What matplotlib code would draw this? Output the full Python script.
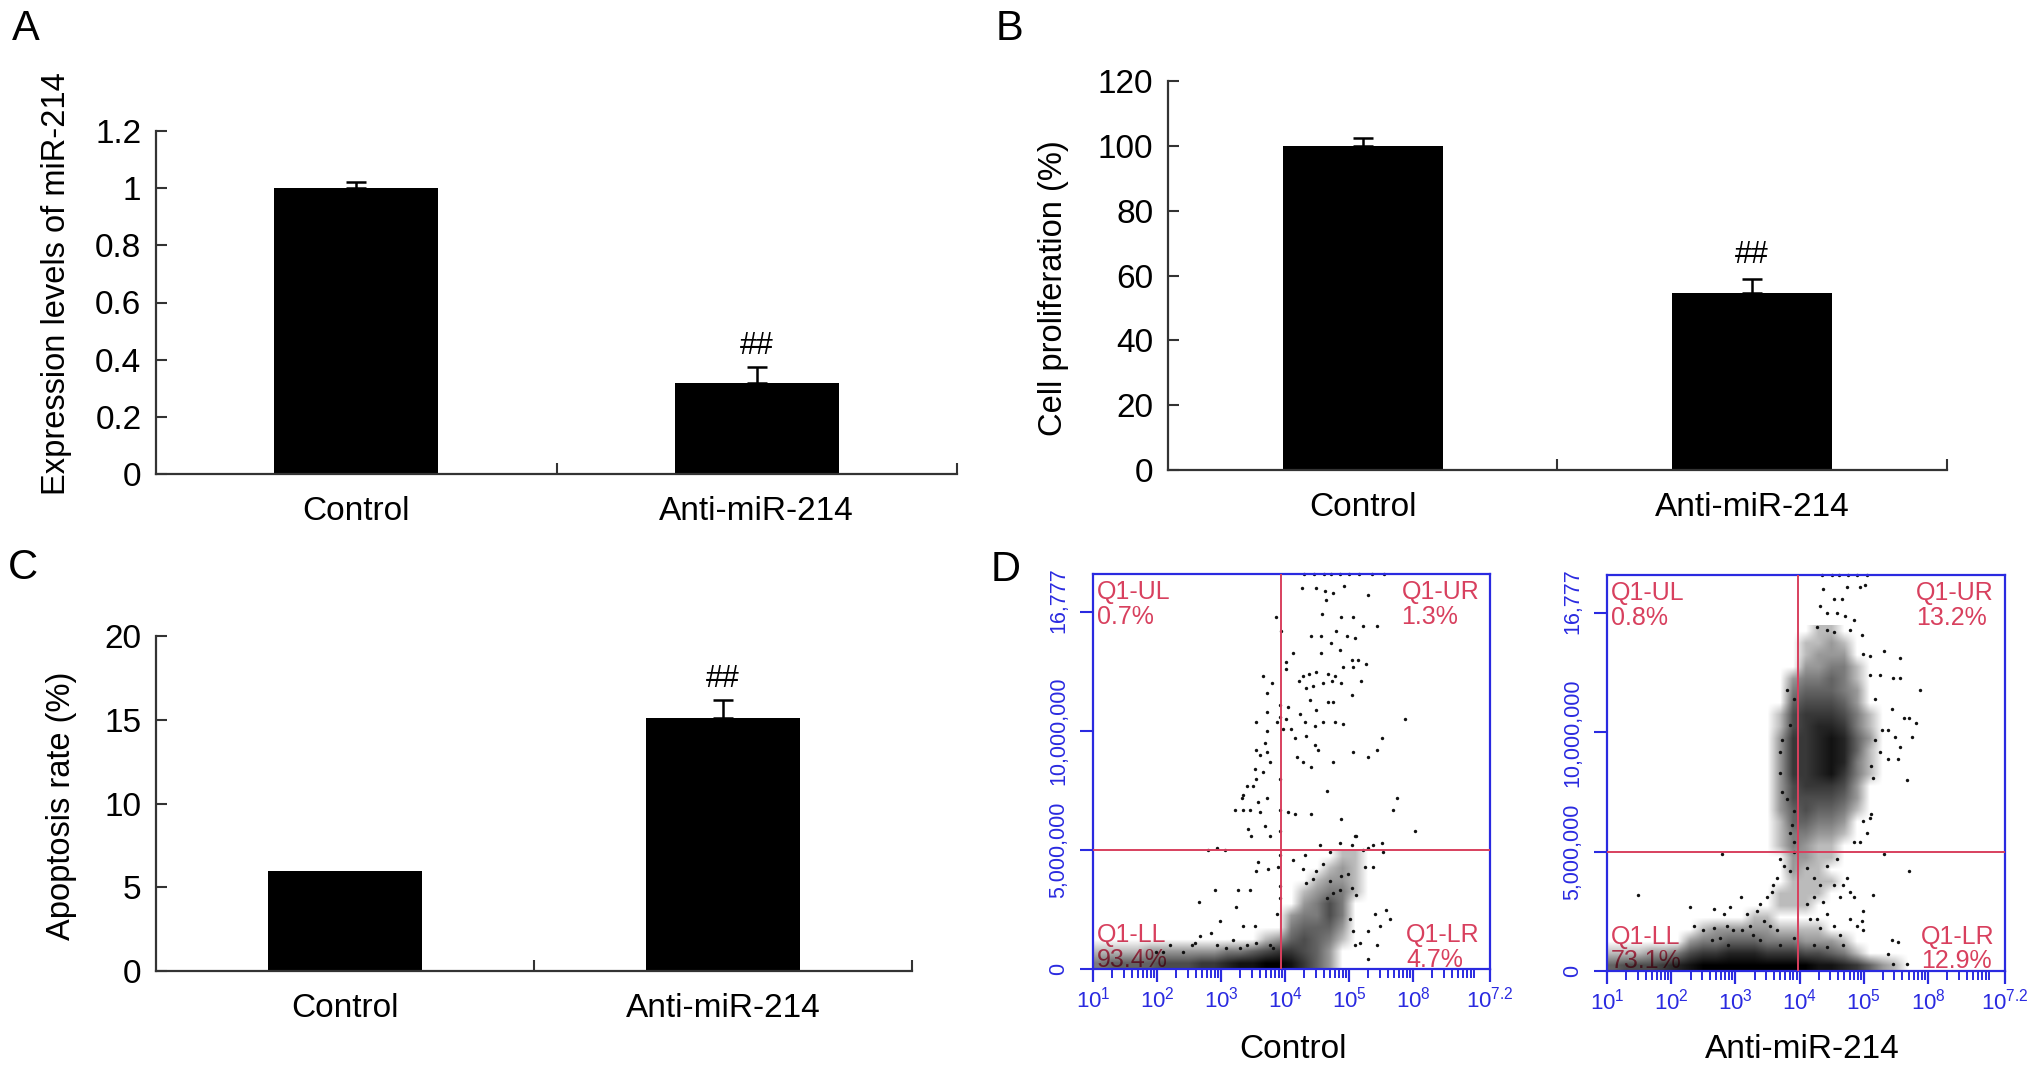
import numpy as np
import matplotlib
matplotlib.use('Agg')
import matplotlib.pyplot as plt
from matplotlib.transforms import ScaledTranslation

plt.rcParams['font.family'] = ['Liberation Sans', 'DejaVu Sans']
plt.rcParams['mathtext.default'] = 'regular'

# ---- bar panels (A, B, C) ----
groups = ['Control', 'Anti-miR-214']
sig = ['', '##']

expr_mean = [1.0, 0.32]
expr_err = [0.02, 0.055]
expr_ticks = [0, 0.2, 0.4, 0.6, 0.8, 1.0, 1.2]
expr_labels = ['0', '0.2', '0.4', '0.6', '0.8', '1', '1.2']

prolif_mean = [100.0, 54.5]
prolif_err = [2.3, 4.5]
prolif_ticks = [0, 20, 40, 60, 80, 100, 120]

apop_mean = [6.0, 15.1]
apop_err = [0.0, 1.1]
apop_ticks = [0, 5, 10, 15, 20]

# ---- flow cytometry (D) ----
# x in log10(intensity), y in millions
flow_titles = ['Control', 'Anti-miR-214']
gate_x = [3.94, 3.97]
gate_y = 5.0
quad_names = ['Q1-UL', 'Q1-UR', 'Q1-LL', 'Q1-LR']
ctrl_quads = ['0.7%', '1.3%', '93.4%', '4.7%']
anti_quads = ['0.8%', '13.2%', '73.1%', '12.9%']
flow_yticks = [0, 5, 10, 15]
flow_ylabels = ['0', '5,000,000', '10,000,000', '16,777']
flow_xticks = [1, 2, 3, 4, 5, 6, 7.2]
flow_xlabels = ['$10^{1}$', '$10^{2}$', '$10^{3}$', '$10^{4}$', '$10^{5}$', '$10^{8}$', '$10^{7.2}$']

# sparse events
ctrl_events = [
    (4.26, 16.0), (4.48, 16.0), (4.62, 15.9), (4.75, 15.8), (4.92, 16.1), (4.64, 15.5), (5.30, 15.7),
    (3.86, 14.8), (4.57, 14.9), (4.88, 14.8), (5.06, 14.8), (3.94, 14.2), (4.41, 14.0), (4.56, 14.0),
    (4.80, 14.2), (4.96, 14.0), (5.09, 13.9), (5.22, 14.4), (5.44, 14.4), (4.71, 13.7), (4.13, 13.3),
    (4.56, 13.3), (4.86, 13.4), (5.04, 13.0), (5.14, 13.0), (5.26, 12.8), (4.02, 12.9), (4.01, 12.6),
    (4.28, 12.3), (4.38, 12.4), (4.49, 12.5), (4.67, 12.4), (4.78, 12.3), (4.91, 12.7), (5.06, 12.7),
    (5.18, 12.1), (3.65, 12.3), (3.79, 12.0), (3.71, 11.6), (4.22, 12.1), (4.33, 11.8), (4.44, 11.9),
    (4.59, 12.0), (4.73, 12.1), (4.88, 12.0), (5.04, 11.5), (4.05, 11.0), (3.92, 11.1), (3.92, 10.6),
    (3.72, 10.8), (4.39, 11.3), (4.49, 10.9), (4.67, 11.2), (4.75, 11.2), (3.87, 10.4), (4.02, 10.5),
    (4.23, 10.7), (4.31, 10.4), (4.59, 10.4), (4.78, 10.4), (4.91, 10.3), (4.46, 10.2), (3.97, 10.1),
    (4.10, 10.1), (3.71, 10.0), (3.55, 10.4), (4.33, 9.8), (4.15, 9.7), (4.46, 9.4), (4.52, 9.2),
    (4.18, 8.9), (4.28, 8.7), (4.41, 8.5), (4.75, 8.7), (5.06, 9.1), (5.30, 8.9), (5.44, 9.2),
    (5.51, 9.7), (5.88, 10.5), (3.68, 9.5), (3.54, 9.2), (3.61, 9.0), (3.71, 9.1), (3.76, 8.7),
    (3.53, 8.4), (3.66, 8.3), (3.55, 8.0), (3.50, 7.7), (3.40, 7.7), (3.34, 7.3), (3.32, 7.2),
    (3.21, 6.7), (3.34, 6.7), (3.45, 6.7), (3.58, 7.0), (3.71, 7.2), (3.61, 6.6), (3.68, 6.0),
    (3.76, 5.6), (3.42, 5.9), (3.46, 5.6), (3.92, 8.0), (3.92, 6.7), (3.92, 5.8), (4.05, 6.6),
    (4.15, 6.5), (4.41, 6.5), (4.65, 7.5), (4.88, 6.3), (5.09, 5.6), (5.69, 6.7), (5.74, 7.2),
    (6.03, 5.8), (3.89, 4.3), (3.92, 4.8), (3.92, 3.5), (3.92, 3.0), (3.87, 2.3), (3.58, 4.5),
    (3.54, 4.1), (3.74, 4.2), (3.27, 3.3), (3.45, 3.3), (2.90, 3.3), (2.66, 2.8), (3.24, 2.6),
    (2.98, 2.0), (3.34, 1.8), (3.53, 1.8), (2.80, 5.0), (2.93, 5.1), (3.06, 5.0), (4.13, 4.6),
    (4.31, 4.8), (4.54, 5.2), (4.70, 4.9), (4.86, 5.3), (5.04, 5.2), (5.11, 5.6), (5.22, 5.0),
    (5.30, 5.1), (5.38, 5.2), (5.51, 5.3), (5.53, 4.9), (5.25, 4.3), (5.38, 4.3), (5.58, 2.5),
    (5.40, 2.3), (5.48, 1.8), (5.30, 1.6), (5.17, 1.1), (5.30, 0.4), (5.43, 1.0), (5.64, 2.1),
    (4.33, 3.6), (4.44, 3.8), (4.28, 4.2), (4.49, 4.1), (4.59, 4.4), (4.70, 3.7), (4.88, 3.9),
    (4.99, 4.0), (5.04, 3.4), (5.11, 3.1), (5.01, 2.1), (5.06, 1.6), (5.09, 1.0), (4.75, 3.2),
    (4.86, 3.3), (4.65, 3.0), (2.54, 1.0), (2.67, 1.4), (2.85, 1.5), (2.59, 1.1), (2.41, 0.7),
    (2.09, 0.7), (2.20, 1.0), (1.99, 0.7), (2.93, 1.0), (3.08, 0.9), (3.19, 1.2), (3.29, 0.9),
    (3.40, 1.0), (3.55, 1.1), (3.76, 1.0), (3.81, 0.9),
    (4.30, 16.6), (4.45, 16.6), (4.60, 16.6), (4.72, 16.6), (4.85, 16.6), (5.00, 16.6),
    (5.15, 16.6), (5.35, 16.6), (5.55, 16.6),
]

anti_events = [
    (4.37, 16.0), (4.53, 15.6), (4.66, 15.6), (4.74, 16.1), (4.94, 16.1), (5.02, 16.2), (4.32, 15.3),
    (4.42, 15.0), (4.58, 15.0), (4.71, 14.9), (4.84, 14.7), (4.27, 14.4), (4.42, 14.3), (4.53, 14.2),
    (4.79, 14.3), (4.97, 14.1), (4.99, 13.3), (5.10, 13.2), (5.31, 13.4), (5.57, 13.1), (5.10, 12.4),
    (5.25, 12.4), (5.46, 12.3), (5.57, 12.3), (5.88, 11.8), (5.18, 11.4), (5.44, 11.0), (5.62, 10.6),
    (5.70, 10.6), (5.82, 10.4), (5.75, 9.8), (5.38, 10.1), (5.28, 10.1), (5.49, 9.8), (5.57, 9.4),
    (5.18, 9.7), (5.25, 9.2), (5.38, 8.9), (5.54, 8.9), (5.67, 8.0), (5.12, 8.6), (5.15, 8.1),
    (5.10, 6.4), (4.99, 6.3), (5.05, 5.8), (5.12, 6.6), (4.84, 5.4), (4.94, 5.4), (5.31, 4.9),
    (5.70, 4.2), (5.15, 3.2), (4.84, 3.1), (4.79, 2.2), (4.99, 2.5), (4.97, 2.1), (4.89, 1.9),
    (4.99, 1.7), (5.44, 1.3), (5.54, 1.2), (5.38, 0.7), (5.46, 0.3), (5.67, 0.3), (3.80, 11.8),
    (3.85, 10.3), (3.91, 11.4), (3.72, 9.7), (3.70, 9.2), (3.70, 8.3), (3.72, 7.5), (3.80, 7.2),
    (3.91, 6.7), (3.88, 6.1), (3.85, 5.8), (3.91, 5.4), (3.91, 5.0), (3.70, 4.7), (3.75, 4.4),
    (3.85, 4.2), (3.65, 3.9), (3.59, 3.6), (3.57, 3.3), (3.49, 3.1), (3.39, 2.8), (3.33, 2.5),
    (3.18, 2.4), (3.08, 3.1), (2.82, 2.4), (2.66, 2.6), (2.92, 2.7), (2.30, 2.7), (1.49, 3.2),
    (2.79, 4.9), (4.16, 2.2), (4.27, 2.2), (4.32, 1.8), (4.53, 1.9), (4.22, 1.1), (4.42, 1.0),
    (4.63, 1.5), (4.68, 1.1), (2.35, 1.9), (2.50, 1.7), (2.66, 1.8), (2.76, 1.4), (2.87, 1.9),
    (2.97, 1.7), (3.10, 1.7), (3.23, 1.9), (3.28, 1.5), (3.44, 2.1), (3.54, 1.9), (3.65, 1.7),
    (2.63, 1.3), (2.89, 1.1), (3.39, 1.3), (3.70, 1.1), (3.91, 1.4), (4.11, 4.3), (4.22, 3.9),
    (4.32, 3.6), (4.42, 4.4), (4.53, 3.6), (4.63, 3.1), (4.58, 4.7), (4.22, 3.1), (4.11, 2.8),
    (4.37, 2.9), (4.42, 2.4), (4.68, 3.6), (4.74, 3.9), (4.79, 3.3),
    (4.35, 16.6), (4.50, 16.6), (4.62, 16.6), (4.75, 16.6), (4.90, 16.6), (5.05, 16.6),
]

# event density (0-9), columns of 0.2 decade from 10^1, rows of 0.5M from 0 (bottom row first)
ctrl_density = [
    '3444455566788998642000000000000',
    '1111222222334566542000000000000',
    '0000000000000124543100000000000',
    '0000000000000003444200000000000',
    '0000000000000002335300000000000',
    '0000000000000000235300000000000',
    '0000000000000000123310000000000',
    '0000000000000000012210000000000',
    '0000000000000000001210000000000',
    '0000000000000000000110000000000',
]

anti_density = [
    '4555678999999999887642100000000',
    '1112235667776665543100000000000',
    '0000002334443332221000000000000',
    '0000000122222111100000000000000',
    '0000000000011000000000000000000',
    '0000000000000111000000000000000',
    '0000000000000111100000000000000',
    '0000000000000011110000000000000',
    '0000000000000021100000000000000',
    '0000000000000022110000000000000',
    '0000000000000132110000000000000',
    '0000000000000133221000000000000',
    '0000000000000144332000000000000',
    '0000000000000245443100000000000',
    '0000000000000255554200000000000',
    '0000000000000256665200000000000',
    '0000000000000266786310000000000',
    '0000000000000266787310000000000',
    '0000000000000266787410000000000',
    '0000000000000266787420000000000',
    '0000000000000156776310000000000',
    '0000000000000156665310000000000',
    '0000000000000045554200000000000',
    '0000000000000034443200000000000',
    '0000000000000023343100000000000',
    '0000000000000002233100000000000',
    '0000000000000001222000000000000',
    '0000000000000001121000000000000',
    '0000000000000000110000000000000',
]

W, H = 2031, 1076
AXC = '#333333'
BLUE = '#2a2ae0'
RED = '#d8405e'

fig = plt.figure(figsize=(W / 100, H / 100), dpi=100)


def axes_px(left, top, right, bottom):
    return fig.add_axes([left / W, 1 - bottom / H, (right - left) / W, (bottom - top) / H])


def bar_panel(ax, means, errs, ymax, yticks, ylabels):
    x = np.arange(len(groups))
    ax.bar(x, means, width=0.41, color='black', zorder=2)
    for xi, m, e, s in zip(x, means, errs, sig):
        if e > 0:
            ax.errorbar([xi], [m], yerr=[[0], [e]], fmt='none', ecolor='black',
                        elinewidth=1.8, capsize=7, capthick=1.8, zorder=3)
        if s:
            ax.text(xi, m + e + 0.062 * ymax, s, ha='center', va='center', fontsize=22)
    ax.set_xlim(-0.5, 1.5)
    ax.set_ylim(0, ymax)
    ax.set_yticks(yticks)
    ax.set_yticklabels(ylabels)
    ax.set_xticks(x)
    ax.set_xticklabels(groups)
    ax.set_xticks([0.5, 1.5], minor=True)
    for side in ['top', 'right']:
        ax.spines[side].set_visible(False)
    for side in ['left', 'bottom']:
        ax.spines[side].set_color(AXC)
        ax.spines[side].set_linewidth(1.6)
    ax.tick_params(axis='y', direction='in', length=8, width=1.5, color=AXC, labelsize=24, pad=10.5)
    ax.tick_params(axis='x', which='major', length=0, labelsize=24, pad=16)
    ax.tick_params(axis='x', which='minor', direction='in', length=8, width=1.5, color=AXC)


def flow_panel(ax, events, density, gx, quads):
    dens = np.array([[int(c) for c in row.ljust(31, '0')[:31]] for row in density], dtype=float)
    rgba = np.zeros((dens.shape[0], dens.shape[1], 4))
    rgba[..., 3] = np.clip(dens / 9.0, 0, 1) ** 0.6
    ax.imshow(rgba, origin='lower', extent=(1.0, 7.2, 0, 0.5 * dens.shape[0]),
              aspect='auto', interpolation='bilinear', zorder=1)
    ex, ey = zip(*events)
    ax.scatter(ex, ey, s=6, c='#111111', linewidths=0, zorder=2, clip_on=False)
    ax.axvline(gx, color=RED, lw=1.4, zorder=3)
    ax.axhline(gate_y, color=RED, lw=1.4, zorder=3)
    ax.set_xlim(1, 7.2)
    ax.set_ylim(0, 16.6)

    pos = [(0.01, 0.954), (0.777, 0.954), (0.01, 0.086), (0.789, 0.086)]
    for (px, py), name, pct in zip(pos, quad_names, quads):
        ax.text(px, py, name, transform=ax.transAxes, ha='left', va='center', fontsize=18,
                color=RED, zorder=0.8)
        ax.text(px, py - 0.062, pct, transform=ax.transAxes, ha='left', va='center', fontsize=18,
                color=RED, zorder=0.8)

    for side in ax.spines:
        ax.spines[side].set_color(BLUE)
        ax.spines[side].set_linewidth(1.6)
    ax.set_xticks(flow_xticks)
    ax.set_xticklabels(flow_xlabels)
    minor = [d + np.log10(k) for d in range(1, 8) for k in range(2, 10) if d + np.log10(k) < 7.2]
    ax.set_xticks(minor, minor=True)
    ax.set_yticks(flow_yticks)
    ax.set_yticklabels(flow_ylabels, rotation=90, va='center')
    ax.tick_params(axis='x', which='major', direction='out', length=9.5, width=1.6, color=BLUE,
                   labelcolor=BLUE, labelsize=16, pad=3)
    ax.tick_params(axis='x', which='minor', direction='out', length=6.5, width=1.4, color=BLUE)
    ax.tick_params(axis='y', direction='out', length=9.5, width=1.5, color=BLUE,
                   labelcolor=BLUE, labelsize=15.5, pad=7.5)
    # the top label sits a little above its tick, inside the frame height
    top_label = ax.get_yticklabels()[-1]
    top_label.set_transform(top_label.get_transform() + ScaledTranslation(0, 12 / 100, fig.dpi_scale_trans))


axA = axes_px(156, 131, 957, 474)
bar_panel(axA, expr_mean, expr_err, 1.2, expr_ticks, expr_labels)
fig.text(57 / W, 1 - 284 / H, 'Expression levels of miR-214', rotation=90, ha='center', va='center', fontsize=23.5)

axB = axes_px(1168, 81, 1947, 470)
bar_panel(axB, prolif_mean, prolif_err, 120, prolif_ticks, [str(t) for t in prolif_ticks])
fig.text(1054 / W, 1 - 288 / H, 'Cell proliferation (%)', rotation=90, ha='center', va='center', fontsize=23.5)

axC = axes_px(156, 636, 912, 971)
bar_panel(axC, apop_mean, apop_err, 20, apop_ticks, [str(t) for t in apop_ticks])
fig.text(62 / W, 1 - 806 / H, 'Apoptosis rate (%)', rotation=90, ha='center', va='center', fontsize=23.5)

axD1 = axes_px(1093, 574, 1490, 969)
flow_panel(axD1, ctrl_events, ctrl_density, gate_x[0], ctrl_quads)
axD2 = axes_px(1607, 575, 2005, 971)
flow_panel(axD2, anti_events, anti_density, gate_x[1], anti_quads)
for cx, title in zip([1293, 1802], flow_titles):
    fig.text(cx / W, 1 - 1050 / H, title, ha='center', va='center', fontsize=24)

for (lx, ly), lab in zip([(26, 29), (1010, 29), (23, 568), (1006, 570)], 'ABCD'):
    fig.text(lx / W, 1 - ly / H, lab, ha='center', va='center', fontsize=30)

fig.savefig('out.png', dpi=100)
